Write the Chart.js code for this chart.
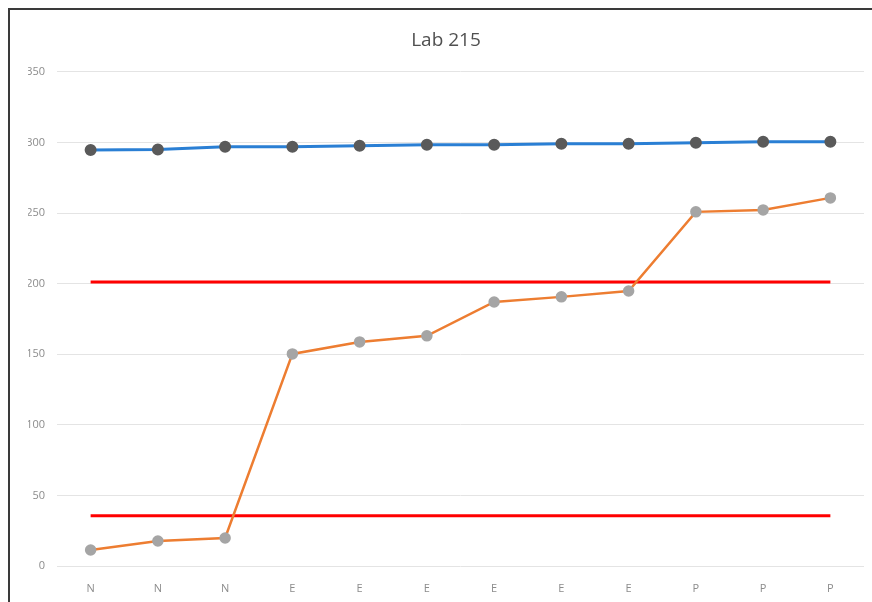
<!DOCTYPE html>
<html>
<head>
<meta charset="utf-8">
<script src="https://cdn.jsdelivr.net/npm/chart.js@4.4.1/dist/chart.umd.min.js"></script>
<style>
  html, body { margin: 0; padding: 0; background: #fff; }
  #wrap { position: relative; width: 872px; height: 602px; }
  #frame { position: absolute; left: 8px; top: 8px; right: 0; bottom: 0;
           border-top: 2px solid #3a3a3a; border-left: 2px solid #3a3a3a; pointer-events: none; }
  canvas { position: absolute; left: 0; top: 0; }
</style>
</head>
<body>
<div id="wrap">
  <canvas id="chart" width="872" height="602"></canvas>
  <div id="frame"></div>
</div>
<script>
// categories along the x axis
const groups = ['N', 'N', 'N', 'E', 'E', 'E', 'E', 'E', 'E', 'P', 'P', 'P'];

// series
const topSeries = [294.7, 295, 296.9, 297, 297.6, 298.3, 298.3, 299, 299, 299.7, 300.4, 300.4];
const mainSeries = [11.3, 17.7, 19.8, 150.2, 158.7, 163, 187, 190.6, 194.8, 250.8, 252.2, 260.7];
const upperLimit = [201.2, 201.2, 201.2, 201.2, 201.2, 201.2, 201.2, 201.2, 201.2, 201.2, 201.2, 201.2];
const lowerLimit = [35.5, 35.5, 35.5, 35.5, 35.5, 35.5, 35.5, 35.5, 35.5, 35.5, 35.5, 35.5];

const yTicks = [0, 50, 100, 150, 200, 250, 300, 350];

const tickFont = { family: 'Open Sans', size: 11 };

new Chart(document.getElementById('chart').getContext('2d'), {
    type: 'line',
    data: {
        labels: groups,
        datasets: [
            {
                label: 'top',
                data: topSeries,
                borderColor: '#2a7fd4',
                borderWidth: 3,
                pointBackgroundColor: '#5a5a5a',
                pointBorderColor: '#5a5a5a',
                pointRadius: 4.5,
                order: 1
            },
            {
                label: 'main',
                data: mainSeries,
                borderColor: '#ed7d31',
                borderWidth: 2.5,
                pointBackgroundColor: '#a5a5a5',
                pointBorderColor: '#a5a5a5',
                pointRadius: 4.5,
                order: 2
            },
            {
                label: 'upper',
                data: upperLimit,
                borderColor: '#ff0000',
                borderWidth: 3,
                pointRadius: 0,
                order: 3
            },
            {
                label: 'lower',
                data: lowerLimit,
                borderColor: '#ff0000',
                borderWidth: 3,
                pointRadius: 0,
                order: 4
            }
        ]
    },
    options: {
        responsive: false,
        animation: false,
        layout: { padding: { left: 28, right: 8, top: 10, bottom: 10 } },
        plugins: {
            legend: { display: false },
            tooltip: { enabled: false },
            title: {
                display: true,
                text: 'Lab 215',
                color: '#505050',
                font: { family: 'Open Sans', size: 19, weight: 'normal' },
                padding: { top: 19, bottom: 20 }
            }
        },
        scales: {
            x: {
                offset: true,
                grid: { display: false },
                border: { display: false },
                ticks: { color: '#8c8c8c', font: tickFont, padding: 8 },
                afterFit: s => { s.height = 26; }
            },
            y: {
                min: 0,
                max: 350,
                afterBuildTicks: s => { s.ticks = yTicks.map(v => ({ value: v })); },
                grid: { color: '#e4e4e4', lineWidth: 1, drawTicks: false },
                border: { display: false },
                ticks: { color: '#8c8c8c', font: tickFont, padding: 12 },
                afterFit: s => { s.width = 29; }
            }
        }
    }
});
</script>
</body>
</html>
